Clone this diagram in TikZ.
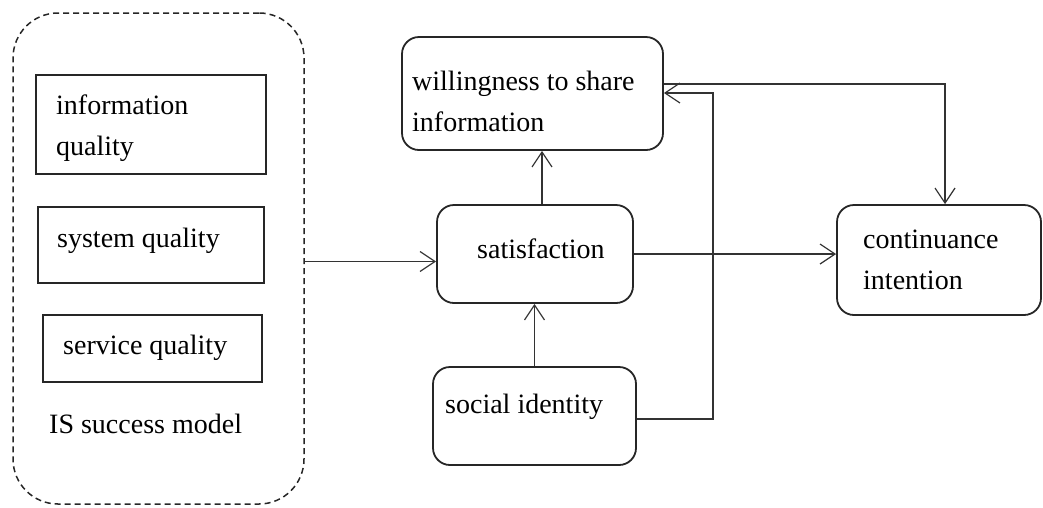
\documentclass[tikz,border=0pt]{standalone}
\usepackage{fontspec}
\setmainfont{Liberation Serif}
\usetikzlibrary{arrows.meta}

\tikzset{
  qualitybox/.style={draw=black!85, line width=1.3pt, inner sep=0pt},
  roundbox/.style={draw=black!85, line width=1.8pt, rounded corners=17pt, inner sep=0pt},
  modelbox/.style={draw=black!85, line width=1.5pt, dash pattern=on 6pt off 4pt,
    rounded corners=45pt, inner sep=0pt},
  txt/.style={anchor=base west, align=left, inner sep=0pt,
    font=\fontsize{28}{41}\selectfont},
  link/.style={draw=black!80, line width=1.2pt,
    -{Straight Barb[length=15pt,width=20pt,line width=1.2pt]}},
}

\begin{document}
\begin{tikzpicture}[x=1pt,y=-1pt]
  \useasboundingbox (0,0) rectangle (1043,507);

  % IS success model
  \node[modelbox, minimum width=291pt, minimum height=491pt] (model) at (158.5,258.5) {};
  \node[qualitybox, minimum width=230pt, minimum height=99pt] (info) at (151,124.5) {};
  \node[qualitybox, minimum width=226pt, minimum height=76pt] (system) at (151,245) {};
  \node[qualitybox, minimum width=219pt, minimum height=67pt] (service) at (152.5,348.5) {};

  \node[txt] (infotxt) at (56,155) {information\\quality};
  \node[txt] (systemtxt) at (57,247) {system quality};
  \node[txt] (servicetxt) at (63,354) {service quality};
  \node[txt] (modeltxt) at (49,433) {IS success model};

  % constructs
  \node[roundbox, minimum width=261pt, minimum height=113pt] (share) at (532.5,93.5) {};
  \node[roundbox, minimum width=196pt, minimum height=98pt] (satis) at (535,254) {};
  \node[roundbox, minimum width=203pt, minimum height=98pt] (social) at (534.5,416) {};
  \node[roundbox, minimum width=204pt, minimum height=110pt] (cont) at (939,260) {};

  \node[txt] (sharetxt) at (412,131) {willingness to share\\information};
  \node[txt] (satistxt) at (477,258) {satisfaction};
  \node[txt] (socialtxt) at (445,413) {social identity};
  \node[txt] (conttxt) at (863,289) {continuance\\intention};

  % paths
  \coordinate (bend) at (713,93);
  \coordinate (top) at (945,84);

  \draw[link] ([yshift=-3pt]model.east) -- ([yshift=-3pt]model.east -| satis.west);
  \draw[link] ([xshift=7pt]satis.north) -- ([xshift=7pt]satis.north |- share.south);
  \draw[link] (social.north) -- (social.north |- satis.south);
  \draw[link] (satis.east) -- (satis.east -| cont.west);
  \draw[link] ([yshift=-3pt]social.east) -| (bend) -- (bend -| share.east);
  \draw[link] (top -| share.east) -- (top) -- (top |- cont.north);

\end{tikzpicture}
\end{document}
